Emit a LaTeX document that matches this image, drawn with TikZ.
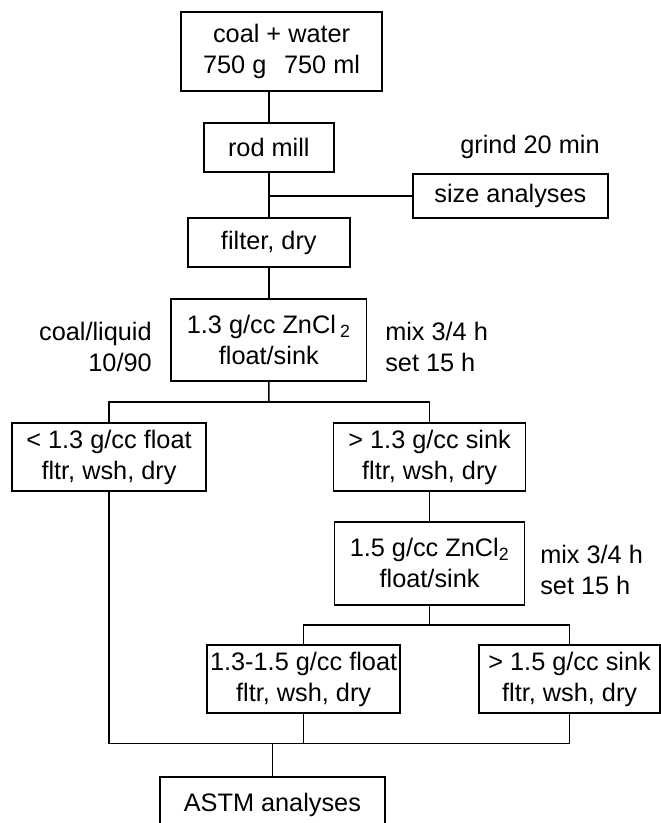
\documentclass[tikz,border=0pt]{standalone}
\usepackage{fontspec}
\setmainfont{Liberation Sans}
\usetikzlibrary{positioning,calc}

\begin{document}
\begin{tikzpicture}[
    box/.style={rectangle,draw,line width=1.1pt,inner sep=0pt,align=center,font=\fontsize{18}{22}\selectfont,minimum width=#1},
    box/.default=4.8cm,
    note/.style={inner sep=0pt,font=\fontsize{18}{22}\selectfont},
    ln/.style={line width=1.1pt},
]
\useasboundingbox (0,0) rectangle (16.525,20.575);
\clip (0,0) rectangle (16.525,20.575);

\node[box=5.03cm,minimum height=1.98cm] (feed) at (7.04,19.29) {coal + water\\750 g\hspace{0.7em}750 ml};
\node[box=3.25cm,minimum height=1.22cm] (mill) at (6.72,16.89) {rod mill};
\node[note] (grind) at (13.25,16.9) {grind 20 min};
\node[box=4.88cm,minimum height=1.1cm] (size) at (12.76,15.68) {size analyses};
\node[box=4.05cm,minimum height=1.22cm] (filt) at (6.72,14.51) {filter, dry};

\node[box=4.88cm,minimum height=2.05cm] (sep1) at (6.72,12.08) {1.3 g/cc ZnCl\,\textsubscript{2}\\float/sink};
\node[note,align=right,anchor=east] (ratio) at (3.8,11.9) {coal/liquid\\10/90};
\node[note,align=left,anchor=west] (time1) at (9.625,11.9) {mix 3/4 h\\set 15 h};

\node[box=4.85cm,minimum height=1.7cm] (fl1) at (2.725,9.15) {< 1.3 g/cc float\\fltr, wsh, dry};
\node[box=4.8cm,minimum height=1.7cm] (sk1) at (10.74,9.15) {> 1.3 g/cc sink\\fltr, wsh, dry};

\node[box=4.75cm,minimum height=2.08cm] (sep2) at (10.74,6.49) {1.5 g/cc ZnCl\textsubscript{2}\\float/sink};
\node[note,align=left,anchor=west] (time2) at (13.5,6.33) {mix 3/4 h\\set 15 h};

\node[box=4.83cm,minimum height=1.7cm] (fl2) at (7.59,3.6) {1.3-1.5 g/cc float\\fltr, wsh, dry};
\node[box=4.53cm,minimum height=1.7cm] (sk2) at (14.24,3.6) {> 1.5 g/cc sink\\fltr, wsh, dry};

\node[box=5.63cm,minimum height=1.4cm] (astm) at (6.81,0.45) {ASTM analyses};

% main line
\draw[ln] (feed.south -| mill.north) -- (mill.north);
\draw[ln] (mill.south) -- (filt.north);
\draw[ln] (size.west) -- (size.west -| mill.south);
\draw[ln] (filt.south) -- (sep1.north);

% first float/sink split
\coordinate (split1) at ($(sep1.south)!0.5!(sep1.south |- sk1.north)$);
\draw[ln] (sep1.south) -- (split1);
\draw[ln] (fl1.north) |- (split1) -| (sk1.north);
\draw[ln] (sk1.south) -- (sep2.north);

% second float/sink split
\coordinate (split2) at ($(sep2.south)!0.5!(sep2.south |- fl2.north)$);
\draw[ln] (sep2.south) -- (split2);
\draw[ln] (fl2.north) |- (split2) -| (sk2.north);

% collect products
\coordinate (join) at ($(astm.north)+(0,0.82)$);
\draw[ln] (fl1.south) |- (join -| sk2.south) -- (sk2.south);
\draw[ln] (fl2.south) -- (fl2.south |- join);
\draw[ln] (astm.north) -- (join);
\end{tikzpicture}
\end{document}
